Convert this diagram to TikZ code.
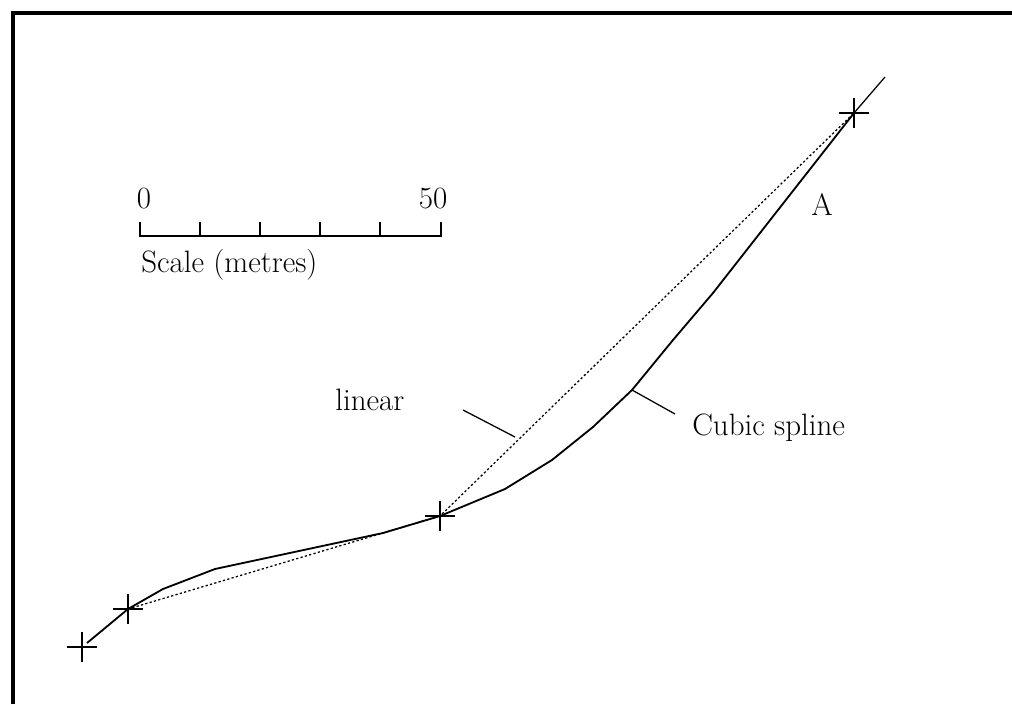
\documentclass[tikz,border=0pt]{standalone}
\usepackage{tikz}
\usetikzlibrary{positioning}

\begin{document}
\begin{tikzpicture}[x=0.025cm, y=-0.025cm,
  lbl/.style={font=\fontsize{22}{26}\selectfont, inner sep=0pt},
  spline/.style={line width=1.3pt, line join=round},
  linear/.style={line width=0.9pt, dash pattern=on 1.6pt off 1.6pt},
  thinline/.style={line width=0.9pt}]
\useasboundingbox (0,0) rectangle (1012,704);
\draw[line width=2.6pt] (13,704) -- (13,13) -- (1012,13);

% surveyed points
\coordinate (p1) at (82,647);
\coordinate (p2) at (128,609);
\coordinate (p3) at (440,516);
\coordinate (p4) at (854,113);
\foreach \p in {p1,p2,p3,p4}
  \draw[thinline] (\p) +(-15,0) -- +(15,0) (\p) +(0,-15) -- +(0,15);

% the two fits
\draw[spline] (87,643) -- (p2) -- (163,589) -- (215,569) -- (383,533) -- (p3)
  -- (505,489) -- (552,460) -- (593,427) -- (632,390) -- (673,340) -- (713,293) -- (p4);
\draw[thinline] (p4) -- (885,77);
\draw[linear] (p2) -- (p3) -- (p4);

% scale bar
\draw[thinline] (140,222) -- (140,236) -- (441,236) -- (441,222);
\foreach \x in {200,260,320,380}
  \draw[thinline] (\x,236) -- (\x,222);
\node[lbl, anchor=base] (zero) at (144,208) {0};
\node[lbl, anchor=base] (fifty) at (433,208) {50};
\node[lbl, anchor=base west] (scale) at (141,272) {Scale (metres)};

% labels
\node[lbl, anchor=base] (a) at (822,215) {A};
\node[lbl, anchor=base west] (lin) at (335,410) {linear};
\node[lbl, anchor=base west] (cub) at (692,435) {Cubic spline};
\coordinate (linend) at (515,437);
\coordinate (linstart) at (463,410);
\coordinate (cubend) at (632,390);
\coordinate (cubstart) at (675,414);
\draw[thinline] (linstart) -- (linend);
\draw[thinline] (cubstart) -- (cubend);
\end{tikzpicture}
\end{document}
